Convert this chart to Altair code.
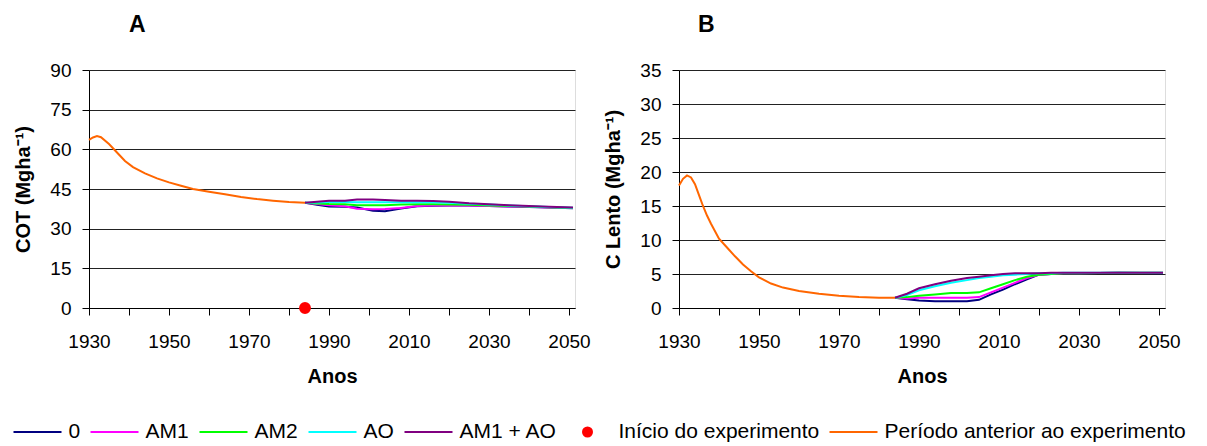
import altair as alt
import pandas as pd

FONT = "Liberation Sans"

# ---------------- Panel A : COT ----------------
pre_years_a = [1930, 1931, 1932, 1933, 1935, 1937, 1939, 1941, 1944, 1947, 1950,
               1953, 1956, 1960, 1964, 1968, 1972, 1976, 1980, 1984]
pre_cot = [63.6, 64.5, 65.0, 64.6, 62.0, 58.8, 55.6, 53.3, 50.9, 49.0, 47.5,
           46.2, 45.0, 44.0, 43.0, 42.0, 41.2, 40.6, 40.1, 39.8]

trt_years_a = [1984, 1987, 1990, 1994, 1997, 2001, 2004, 2008, 2012, 2016, 2020,
               2025, 2030, 2035, 2040, 2045, 2051]
cot_0 = [39.8, 39.0, 38.4, 38.3, 38.0, 36.8, 36.6, 37.6, 38.5, 38.7, 38.8,
         38.8, 38.6, 38.4, 38.2, 38.0, 37.7]
cot_am1 = [39.8, 39.3, 38.9, 38.5, 37.5, 37.3, 37.4, 37.8, 38.6, 38.8, 38.8,
           38.8, 38.6, 38.4, 38.3, 38.0, 37.8]
cot_am2 = [39.8, 39.5, 39.3, 39.2, 38.9, 38.9, 38.9, 39.1, 39.2, 39.2, 39.1,
           39.0, 38.8, 38.6, 38.4, 38.1, 37.8]
cot_ao = [39.8, 39.9, 40.1, 40.1, 40.0, 40.0, 40.0, 40.0, 40.0, 40.0, 39.8,
          39.4, 39.1, 38.8, 38.5, 38.2, 37.9]
cot_am1ao = [39.8, 40.2, 40.6, 40.6, 41.0, 41.0, 40.8, 40.6, 40.6, 40.5, 40.2,
             39.6, 39.2, 38.9, 38.6, 38.3, 38.0]

start_year = [1984]
start_value = [0]

# ---------------- Panel B : C Lento ----------------
pre_years_b = [1930, 1931, 1932, 1933, 1934, 1935, 1936, 1937, 1938, 1940, 1942,
               1944, 1946, 1948, 1950, 1953, 1956, 1960, 1965, 1970, 1975, 1980, 1984]
pre_lento = [18.0, 19.0, 19.5, 19.2, 18.2, 16.6, 15.0, 13.6, 12.4, 10.2, 8.9,
             7.6, 6.4, 5.4, 4.5, 3.6, 3.0, 2.5, 2.1, 1.8, 1.6, 1.5, 1.5]

trt_years_b = [1984, 1987, 1990, 1994, 1998, 2002, 2005, 2008, 2011, 2014, 2017,
               2020, 2023, 2026, 2030, 2040, 2051]
lento_0 = [1.5, 1.3, 1.1, 1.0, 1.0, 1.0, 1.2, 2.0, 2.7, 3.5, 4.2,
           4.9, 5.0, 5.1, 5.1, 5.2, 5.1]
lento_am1 = [1.5, 1.4, 1.5, 1.5, 1.5, 1.5, 1.6, 2.3, 3.0, 3.7, 4.4,
             4.9, 5.0, 5.1, 5.1, 5.2, 5.2]
lento_am2 = [1.5, 1.6, 1.8, 2.0, 2.2, 2.2, 2.3, 2.9, 3.5, 4.1, 4.6,
             4.9, 5.0, 5.1, 5.1, 5.2, 5.2]
lento_ao = [1.5, 1.9, 2.6, 3.2, 3.7, 4.1, 4.4, 4.6, 4.8, 4.9, 5.0,
            5.1, 5.1, 5.2, 5.2, 5.2, 5.2]
lento_am1ao = [1.5, 2.1, 2.9, 3.5, 4.0, 4.4, 4.6, 4.8, 5.0, 5.1, 5.1,
               5.1, 5.2, 5.2, 5.2, 5.2, 5.2]

series_names = ["0", "AM1", "AM2", "AO", "AM1 + AO",
                "Início do experimento", "Período anterior ao experimento"]
series_colors = ["#000080", "#FF00FF", "#00FF00", "#00FFFF", "#800080",
                 "#FF0000", "#FF6600"]


def treatment_frame(years, columns):
    rows = []
    for name, vals in zip(series_names[:5], columns):
        for y, v in zip(years, vals):
            rows.append({"year": y, "value": v, "serie": name})
    return pd.DataFrame(rows)


def simple_frame(years, vals, name):
    return pd.DataFrame({"year": years, "value": vals, "serie": [name] * len(years)})


trt_a = treatment_frame(trt_years_a, [cot_0, cot_am1, cot_am2, cot_ao, cot_am1ao])
pre_a = simple_frame(pre_years_a, pre_cot, series_names[6])
dot_a = simple_frame(start_year, start_value, series_names[5])
trt_b = treatment_frame(trt_years_b, [lento_0, lento_am1, lento_am2, lento_ao, lento_am1ao])
pre_b = simple_frame(pre_years_b, pre_lento, series_names[6])

# legend symbol shapes (unit square -1..1 scaled by symbol size)
LINE_SHAPE = "M-2.4,0L2.4,0"


def ring(r):
    return "M{0},0A{0},{0},0,1,1,-{0},0A{0},{0},0,1,1,{0},0Z".format(r)


# filled-looking dot; the leading move widens its legend entry to the left
DOT_SHAPE = "M-2,0" + ring(0.45) + ring(0.25) + ring(0.08)
series_shapes = [LINE_SHAPE] * 5 + [DOT_SHAPE, LINE_SHAPE]


def make_legend():
    return alt.Legend(
        title=None, orient="none", legendX=-62.5, legendY=351, direction="horizontal",
        symbolSize=400, symbolStrokeWidth=2, symbolOpacity=1,
        labelFont=FONT, labelFontSize=21, labelColor="#000", labelOffset=20,
        columnPadding=6, labelLimit=500,
    )


def scale_col():
    return alt.Scale(domain=series_names, range=series_colors)


stroke_enc = alt.Stroke("serie:N", scale=scale_col(), legend=make_legend())
fill_enc = alt.Fill("serie:N", scale=scale_col(), legend=make_legend())
shape_enc = alt.Shape("serie:N", scale=alt.Scale(domain=series_names, range=series_shapes),
                      legend=make_legend())

W, H = 486, 238


def x_enc():
    return alt.X(
        "year:Q", title="Anos",
        scale=alt.Scale(domain=[1930, 2051.5], nice=False, zero=False),
        axis=alt.Axis(values=list(range(1930, 2051, 10)), format="d",
                      labelExpr="datum.value % 20 == 10 ? datum.label : ''",
                      labelFlush=False, labelOverlap=False, grid=False,
                      tickSize=7, labelPadding=17, titlePadding=15,
                      labelFont=FONT, labelFontSize=19, labelColor="#000",
                      titleFont=FONT, titleFontSize=20, titleFontWeight="bold",
                      titleColor="#000", domainColor="#000", tickColor="#000"),
    )


def y_enc(title, top, step):
    return alt.Y(
        "value:Q", title=title,
        scale=alt.Scale(domain=[0, top], nice=False),
        axis=alt.Axis(values=list(range(0, top + 1, step)), grid=True,
                      gridColor="#222", gridWidth=1, tickSize=7, labelPadding=11,
                      titlePadding=16, labelFont=FONT, labelFontSize=19,
                      labelColor="#000", titleFont=FONT, titleFontSize=20,
                      titleFontWeight="bold", titleColor="#000",
                      domainColor="#000", tickColor="#000"),
    )


def panel(trt, pre, ytitle, top, step, letter, dx, extra=None):
    base_t = alt.Chart(trt).mark_line(strokeWidth=2).encode(
        x=x_enc(), y=y_enc(ytitle, top, step), stroke=stroke_enc)
    base_p = alt.Chart(pre).mark_line(strokeWidth=2).encode(
        x=x_enc(), y=y_enc(ytitle, top, step), stroke=stroke_enc)
    layers = [base_t, base_p]
    if extra is not None:
        layers.append(alt.Chart(extra).mark_point(filled=True, size=484, strokeWidth=2,
                                                  opacity=1).encode(
            x=x_enc(), y=y_enc(ytitle, top, step), stroke=stroke_enc, fill=fill_enc,
            shape=shape_enc))
    return alt.layer(*layers).properties(
        width=W, height=H,
        title=alt.TitleParams(letter, anchor="start", frame="group", dx=dx, offset=24,
                              fontSize=23, font=FONT, fontWeight="bold", color="#000"),
    )


pa = panel(trt_a, pre_a, "COT (Mgha⁻¹)", 90, 15, "A", 40, extra=dot_a)
pb = panel(trt_b, pre_b, "C Lento (Mgha⁻¹)", 35, 5, "B", 19)

chart = alt.hconcat(pa, pb, spacing=12).properties(
    padding={"left": 5, "top": 5, "right": 5, "bottom": 5}
).configure_view(stroke="#000", strokeWidth=1).configure(background="white")

chart.save("out.html", embed_options={"renderer": "svg", "actions": False})
